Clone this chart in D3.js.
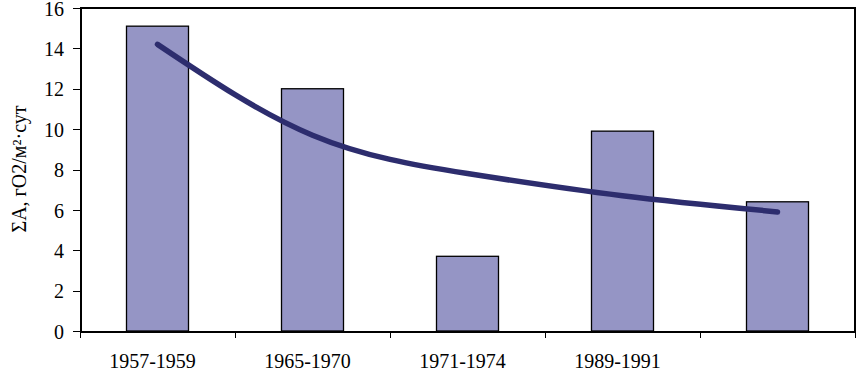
<!DOCTYPE html>
<html>
<head>
  <meta charset="utf-8">
  <script src="https://d3js.org/d3.v7.min.js"></script>
  <style>
    body { margin: 0; background: #fff; }
    text { font-family: "Liberation Serif", "Times New Roman", serif; fill: #000; }
    .axis path, .axis line { stroke: #000; shape-rendering: crispEdges; }
    .axis text { font-size: 20px; font-family: "Liberation Serif", serif; }
    .bar { fill: #9595c5; stroke: #000; stroke-width: 1.3; }
    .trend { fill: none; stroke: #2d2d6e; stroke-width: 5.5; stroke-linecap: round; }
  </style>
</head>
<body>
  <div id="chart"></div>
  <script>
    const categories = ["1957-1959", "1965-1970", "1971-1974", "1989-1991", ""];
    const values = [15.1, 12.0, 3.7, 9.9, 6.4];
    // power trend line, read at each category centre
    const trend = [14.2, 9.7, 7.8, 6.7, 5.9];
    const yTicks = [0, 2, 4, 6, 8, 10, 12, 14, 16];

    const margin = {top: 8, right: 1, bottom: 41, left: 80};
    const width = 856 - margin.left - margin.right;
    const height = 372 - margin.top - margin.bottom;

    const svg = d3.select("#chart")
      .append("svg")
        .attr("width", 856)
        .attr("height", 372)
      .append("g")
        .attr("transform", `translate(${margin.left},${margin.top})`);

    const x = d3.scaleBand()
      .domain(d3.range(categories.length))
      .range([0, width])
      .paddingInner(0.6)
      .paddingOuter(0.3);

    const y = d3.scaleLinear()
      .domain([0, 16])
      .range([height, 0]);

    // frame (top and right)
    svg.append("path")
      .attr("d", `M0,0H${width}V${height}`)
      .attr("fill", "none")
      .attr("stroke", "#000")
      .attr("stroke-width", 2)
      .attr("shape-rendering", "crispEdges");

    // bars
    svg.selectAll(".bar")
      .data(values)
      .enter()
      .append("rect")
        .attr("class", "bar")
        .attr("x", (d, i) => x(i))
        .attr("y", d => y(d))
        .attr("width", x.bandwidth())
        .attr("height", d => height - y(d));

    // trend line
    const line = d3.line()
      .x((d, i) => x(i) + x.bandwidth() / 2)
      .y(d => y(d))
      .curve(d3.curveNatural);

    svg.append("path")
      .datum(trend)
      .attr("class", "trend")
      .attr("d", line);

    // y axis
    const yAxis = svg.append("g")
      .attr("class", "y axis")
      .call(d3.axisLeft(y).tickValues(yTicks).tickSize(7).tickSizeOuter(0).tickPadding(9));
    yAxis.select(".domain").attr("stroke-width", 2);
    yAxis.selectAll("text").attr("dy", "0.36em");

    // x axis: tick marks at category boundaries, labels under bars
    const xb = d3.scaleLinear().domain([0, categories.length]).range([0, width]);
    const xAxis = svg.append("g")
      .attr("class", "x axis")
      .attr("transform", `translate(0,${height})`)
      .call(d3.axisBottom(xb).ticks(categories.length).tickSize(7).tickSizeOuter(0).tickFormat(""));
    xAxis.select(".domain").attr("stroke-width", 2);

    svg.selectAll(".x-label")
      .data(categories)
      .enter()
      .append("text")
        .attr("class", "x-label")
        .attr("x", (d, i) => x(i) + x.bandwidth() / 2 - 5)
        .attr("y", height + 37)
        .attr("text-anchor", "middle")
        .style("font-size", "20px")
        .text(d => d);

    // y axis title
    svg.append("text")
      .attr("transform", "rotate(-90)")
      .attr("x", -(169 - margin.top))
      .attr("y", -margin.left + 26)
      .attr("text-anchor", "middle")
      .style("font-size", "20px")
      .text("ΣA, гO2/м²·сут");
  </script>
</body>
</html>
